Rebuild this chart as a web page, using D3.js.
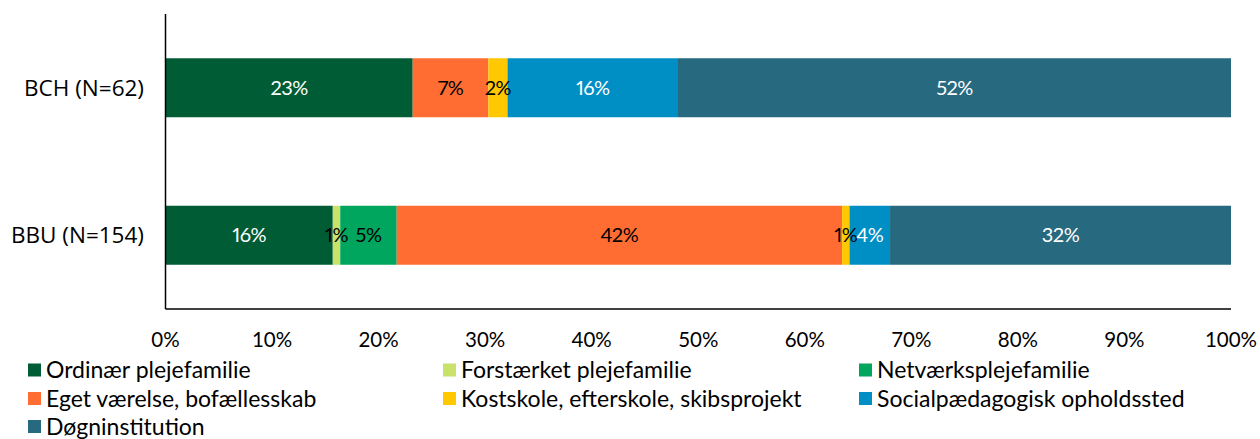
<!DOCTYPE html>
<html>
<head>
<meta charset="utf-8">
<script src="https://cdn.jsdelivr.net/npm/d3@7"></script>
<style>
	body { margin: 0; background: #fff; }
	svg { display: block; }
	.cat-label { font-family: 'Open Sans', sans-serif; font-size: 22.5px; fill: #000; }
	.tick-label { font-family: Lato, sans-serif; font-size: 20.5px; }
	.bar-label { font-family: Lato, sans-serif; font-size: 20px; letter-spacing: -0.5px; font-variant-numeric: proportional-nums; }
	.legend-text { font-family: Lato, sans-serif; font-size: 23px; }
</style>
</head>
<body>
<div id="chart"></div>
<script>
	var categories = ['BCH (N=62)', 'BBU (N=154)'];
	var seriesNames = [
		'Ordinær plejefamilie',
		'Forstærket plejefamilie',
		'Netværksplejefamilie',
		'Eget værelse, bofællesskab',
		'Kostskole, efterskole, skibsprojekt',
		'Socialpædagogisk opholdssted',
		'Døgninstitution'
	];
	var bchValues = [23.2, 0, 0, 7.1, 1.8, 16.0, 51.9];
	var bbuValues = [15.7, 0.7, 5.3, 41.8, 0.7, 3.8, 32.0];
	var xTicks = [0, 10, 20, 30, 40, 50, 60, 70, 80, 90, 100];

	var colors = ['#005c35', '#c8e26a', '#00a65d', '#ff6d33', '#ffc800', '#008fc5', '#27697f'];
	var labelColors = ['#fff', '#000', '#000', '#000', '#000', '#fff', '#fff'];

	var width = 1260,
		height = 439;

	var svg = d3.select('#chart')
		.append('svg')
		.attr('width', width)
		.attr('height', height)

	var x = d3.scaleLinear()
		.domain([0, 100])
		.range([165.5, 1231]);

	var y = d3.scaleBand()
		.domain(categories)
		.range([14, 309])
		.paddingInner(0.6)
		.paddingOuter(0.3);

	var rows = [bchValues, bbuValues].map(function(vals, r) {
		var start = 0;
		return vals.map(function(v, i) {
			var seg = { cat: categories[r], i: i, v: v, x0: start, x1: start + v };
			start += v;
			return seg;
		}).filter(function(d) { return d.v > 0; });
	});

	var segs = d3.merge(rows);

	// bars
	svg.append('g')
		.selectAll('rect')
		.data(segs)
		.enter()
		.append('rect')
		.attr('x', function(d) { return x(d.x0); })
		.attr('y', function(d) { return y(d.cat); })
		.attr('width', function(d) { return x(d.x1) - x(d.x0); })
		.attr('height', y.bandwidth())
		.attr('fill', function(d) { return colors[d.i]; })

	// bar labels
	svg.append('g')
		.selectAll('text')
		.data(segs)
		.enter()
		.append('text')
		.attr('class', 'bar-label')
		.attr('x', function(d) { return (x(d.x0) + x(d.x1)) / 2; })
		.attr('y', function(d) { return y(d.cat) + y.bandwidth() / 2; })
		.attr('dy', '0.35em')
		.attr('text-anchor', 'middle')
		.attr('fill', function(d) { return labelColors[d.i]; })
		.text(function(d) { return Math.round(d.v) + '%'; })

	// axes lines
	svg.append('line')
		.attr('x1', x(0)).attr('x2', x(0))
		.attr('y1', 14).attr('y2', 309)
		.attr('stroke', '#000')
		.attr('stroke-width', 1.5)

	svg.append('line')
		.attr('x1', x(0)).attr('x2', x(100))
		.attr('y1', 309).attr('y2', 309)
		.attr('stroke', '#000')
		.attr('stroke-width', 1.5)

	// category labels
	svg.append('g')
		.selectAll('text')
		.data(categories)
		.enter()
		.append('text')
		.attr('class', 'cat-label')
		.attr('x', 144)
		.attr('y', function(d) { return y(d) + y.bandwidth() / 2; })
		.attr('dy', '0.35em')
		.attr('text-anchor', 'end')
		.text(function(d) { return d; })

	// x tick labels
	svg.append('g')
		.selectAll('text')
		.data(xTicks)
		.enter()
		.append('text')
		.attr('class', 'tick-label')
		.attr('x', function(d) { return x(d); })
		.attr('y', 340)
		.attr('dy', '0.35em')
		.attr('text-anchor', 'middle')
		.text(function(d) { return d + '%'; })

	// legend
	var legendCols = [28, 443, 859],
		legendRows = [370, 398.5, 426.5];

	var legend = svg.append('g')
		.selectAll('g')
		.data(seriesNames)
		.enter()
		.append('g')
		.attr('transform', function(d, i) {
			return 'translate(' + legendCols[i % 3] + ' ' + legendRows[Math.floor(i / 3)] + ')';
		})

	legend.append('rect')
		.attr('x', 0)
		.attr('y', -6.5)
		.attr('width', 13)
		.attr('height', 13)
		.attr('fill', function(d, i) { return colors[i]; })

	legend.append('text')
		.attr('class', 'legend-text')
		.attr('x', 18)
		.attr('y', 0)
		.attr('dy', '0.35em')
		.text(function(d) { return d; })
</script>
</body>
</html>
